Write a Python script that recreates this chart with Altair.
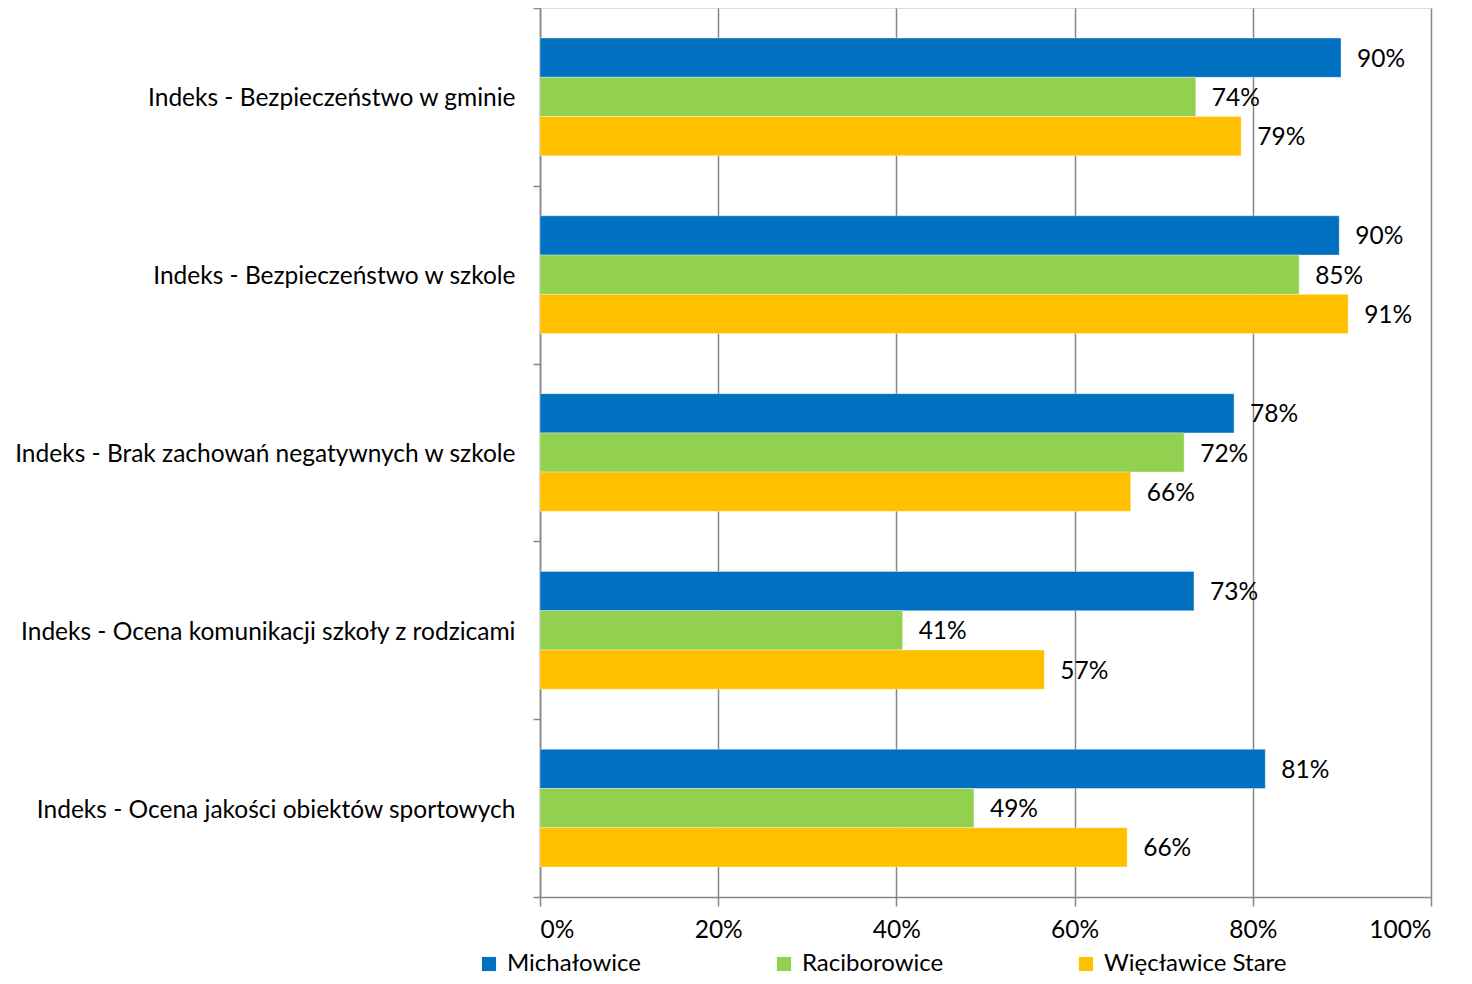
import altair as alt
import pandas as pd

categories = [
    "Indeks - Bezpieczeństwo w gminie",
    "Indeks - Bezpieczeństwo w szkole",
    "Indeks - Brak zachowań negatywnych w szkole",
    "Indeks - Ocena komunikacji szkoły z rodzicami",
    "Indeks - Ocena jakości obiektów sportowych",
]
series = ["Michałowice", "Raciborowice", "Więcławice Stare"]
michalowice = [89.9, 89.7, 77.9, 73.4, 81.4]
raciborowice = [73.6, 85.2, 72.3, 40.7, 48.7]
wieclawice = [78.7, 90.7, 66.3, 56.6, 65.9]
colors = ["#0070C0", "#92D050", "#FFC000"]
x_ticks = [0, 0.2, 0.4, 0.6, 0.8, 1.0]

rows = []
for s, vals in zip(series, [michalowice, raciborowice, wieclawice]):
    for c, v in zip(categories, vals):
        rows.append({"kategoria": c, "gmina": s, "wartosc": v / 100,
                     "etykieta": f"{round(v)}%"})
df = pd.DataFrame(rows)

FONT = "Lato"
FS = 24.5

y_enc = alt.Y("kategoria:N", sort=categories,
              scale=alt.Scale(paddingInner=0, paddingOuter=0),
              axis=alt.Axis(title=None, tickBand="extent", tickSize=7,
                            tickColor="#868686", domainColor="#868686",
                            tickWidth=1.5, domainWidth=1.5,
                            labelPadding=18, labelOffset=2,
                            labelFontSize=FS, labelFont=FONT,
                            labelColor="#000000", labelLimit=600, grid=False))
yoff_enc = alt.YOffset("gmina:N", sort=series,
                       scale=alt.Scale(paddingInner=0, paddingOuter=0.765))
x_enc = alt.X("wartosc:Q", scale=alt.Scale(domain=[0, 1], nice=False),
              axis=alt.Axis(title=None, format=".0%", values=x_ticks,
                            grid=True, gridColor="#868686", gridWidth=1.5,
                            tickSize=9, tickColor="#868686", tickWidth=1.5,
                            domainColor="#868686", domainWidth=1.5,
                            labelPadding=12, labelFontSize=FS, labelFont=FONT,
                            labelColor="#000000"))

base = alt.Chart(df)

bars = base.mark_bar(stroke="#ffffff", strokeWidth=0.6, strokeOpacity=0.6).encode(
    y=y_enc,
    yOffset=yoff_enc,
    x=x_enc,
    color=alt.Color("gmina:N", sort=series,
                    scale=alt.Scale(domain=series, range=colors),
                    legend=alt.Legend(title=None, orient="none",
                                      direction="horizontal",
                                      legendX=-63, legendY=944,
                                      symbolType="square", symbolSize=200,
                                      symbolStrokeWidth=0, symbolOpacity=1,
                                      labelFontSize=24, labelFont=FONT,
                                      labelColor="#000000", labelOffset=6,
                                      columnPadding=130, labelLimit=400)),
)

labels = base.mark_text(align="left", baseline="middle", dx=16, dy=2,
                        fontSize=FS, font=FONT, color="#000000").encode(
    y=alt.Y("kategoria:N", sort=categories),
    yOffset=alt.YOffset("gmina:N", sort=series),
    x=alt.X("wartosc:Q"),
    text="etykieta:N",
)

chart = (bars + labels).properties(
    width=891, height=889,
    autosize=alt.AutoSizeParams(type="none"),
    padding={"left": 532, "top": 0, "right": 28, "bottom": 78},
).configure_view(stroke=None).configure(background="#ffffff")

chart.save("out.html", embed_options={"renderer": "svg", "actions": False})
